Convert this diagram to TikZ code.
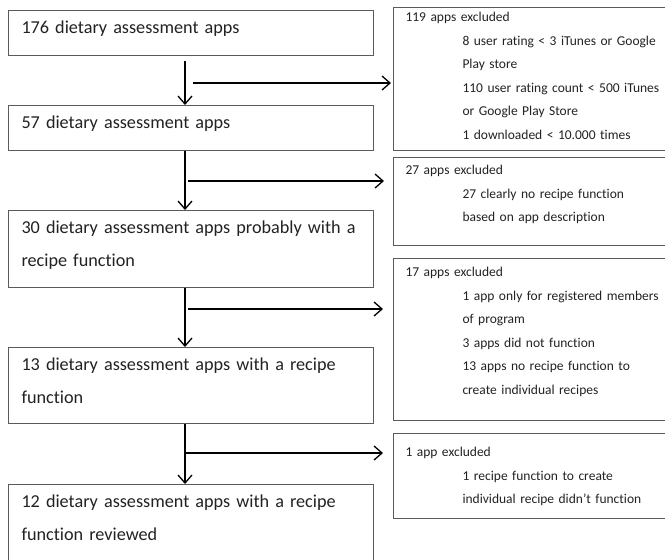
\documentclass[tikz,border=0pt]{standalone}
\usepackage{fontspec}
\setmainfont{Carlito}[Ligatures=NoCommon]
\usetikzlibrary{arrows.meta}
\definecolor{frame}{HTML}{5A5A5A}
\definecolor{ink}{HTML}{222222}
\newcommand{\ind}{\hspace*{57pt}}

\begin{document}
\begin{tikzpicture}[x=1pt,y=-1pt,
  lbox/.style={draw=frame,line width=1pt,anchor=north west,align=left,text width=339pt,
    inner xsep=13pt,inner ysep=0pt,text height=23pt,font=\fontsize{18.2}{33}\selectfont,text=ink},
  rbox/.style={draw=frame,line width=1pt,anchor=north west,align=left,text width=300pt,
    inner xsep=12pt,inner ysep=0pt,font=\fontsize{13.5}{23.6}\selectfont,text=ink},
  arr/.style={-{Straight Barb[length=8pt,width=14pt]},line width=1.3pt}]
  \useasboundingbox (0,0) rectangle (665,560);
  \clip (0,0) rectangle (665,560);

  % main flow
  \node[lbox,text depth=22pt] (b1) at (8,10) {176 dietary assessment apps};
  \node[lbox,text depth=22pt] (b2) at (8,105) {57 dietary assessment apps};
  \node[lbox,text depth=54pt] (b3) at (8,210) {30 dietary assessment apps probably with a\\recipe function};
  \node[lbox,text depth=53pt] (b4) at (8,347) {13 dietary assessment apps with a recipe\\function};
  \node[lbox,text depth=70pt] (b5) at (8,484) {12 dietary assessment apps with a recipe\\function reviewed};

  % exclusions
  \node[rbox,text height=14pt,text depth=129pt] (x1) at (393,7) {119 apps excluded\\
    \ind 8 user rating < 3 iTunes or Google\\
    \ind Play store\\
    \ind 110 user rating count < 500 iTunes\\
    \ind or Google Play Store\\
    \ind 1 downloaded < 10.000 times};
  \node[rbox,text height=17pt,text depth=71pt] (x2) at (393,157) {27 apps excluded\\
    \ind 27 clearly no recipe function\\
    \ind based on app description};
  \node[rbox,text height=18pt,text depth=144pt] (x3) at (393,258) {17 apps excluded\\
    \ind 1 app only for registered members\\
    \ind of program\\
    \ind 3 apps did not function\\
    \ind 13 apps no recipe function to\\
    \ind create individual recipes};
  \node[rbox,text height=23pt,text depth=62pt] (x4) at (393,433) {1 app excluded\\
    \ind 1 recipe function to create\\
    \ind individual recipe didn’t function};

  % arrows
  \coordinate (spine) at (185,0);
  \draw[arr] ([yshift=-5pt]b1.south -| spine) -- (b2.north -| spine);
  \draw[arr] (b2.south -| spine) -- (b3.north -| spine);
  \draw[arr] (b3.south -| spine) -- (b4.north -| spine);
  \draw[arr] (b4.south -| spine) -- (b5.north -| spine);

  \coordinate (e1) at (193,83);
  \coordinate (e2) at (188,181);
  \coordinate (e3) at (188,309);
  \coordinate (e4) at (186,453);
  \draw[arr] (e1) -- ([xshift=-2pt]e1 -| x1.west);
  \draw[arr] (e2) -- ([xshift=-9pt]e2 -| x2.west);
  \draw[arr] (e3) -- ([xshift=-10pt]e3 -| x3.west);
  \draw[arr] (e4) -- ([xshift=-10pt]e4 -| x4.west);
\end{tikzpicture}
\end{document}
